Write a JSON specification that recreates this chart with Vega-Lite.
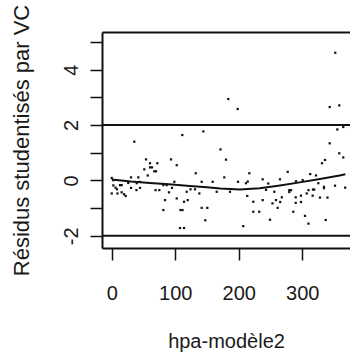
{
  "$schema": "https://vega.github.io/schema/vega-lite/v6.json",
  "autosize": {"type": "none"},
  "padding": {"left": 102, "top": 32, "right": 0, "bottom": 112},
  "width": 248,
  "height": 216,
  "background": "white",
  "config": {
    "view": {"stroke": null},
    "axis": {"grid": false, "labelFont": "Liberation Sans", "titleFont": "Liberation Sans", "labelColor": "#1a1a1a", "titleColor": "#1a1a1a", "titleFontWeight": "normal", "domainColor": "#111", "tickColor": "#111"}
  },
  "datasets": {
    "pts": [
      {"hpa": 0, "res": 0.09}, {"hpa": 2.5, "res": 0.01}, {"hpa": 2.5, "res": -0.18}, {"hpa": 6, "res": -0.26},
      {"hpa": 8.3, "res": -0.32}, {"hpa": 13, "res": -0.17}, {"hpa": 15.7, "res": -0.17}, {"hpa": 0, "res": -0.47},
      {"hpa": 9.1, "res": -0.47}, {"hpa": 15.7, "res": -0.43}, {"hpa": 19.4, "res": -0.5}, {"hpa": 22, "res": -0.56},
      {"hpa": 26, "res": -0.09}, {"hpa": 30.4, "res": 0.11}, {"hpa": 41.9, "res": 0.11}, {"hpa": 30.4, "res": -0.27},
      {"hpa": 39.4, "res": -0.1}, {"hpa": 43.8, "res": -0.05}, {"hpa": 44.6, "res": -0.27}, {"hpa": 39, "res": -0.35},
      {"hpa": 35.6, "res": 1.4}, {"hpa": 51.3, "res": 0.4}, {"hpa": 54, "res": 0.76}, {"hpa": 56.7, "res": 0.18},
      {"hpa": 60.3, "res": 0.62}, {"hpa": 60.3, "res": 0.47}, {"hpa": 63.5, "res": 0.47}, {"hpa": 67, "res": 0.33},
      {"hpa": 69.8, "res": 0.33}, {"hpa": 71.8, "res": 0.62}, {"hpa": 69, "res": -0.35}, {"hpa": 75, "res": -0.35},
      {"hpa": 81.3, "res": -0.17}, {"hpa": 86.6, "res": -0.17}, {"hpa": 84, "res": -0.71}, {"hpa": 81.3, "res": -1.07},
      {"hpa": 93.4, "res": 0.76}, {"hpa": 102.4, "res": 0.55}, {"hpa": 98.6, "res": -0.05}, {"hpa": 95, "res": -0.27},
      {"hpa": 90.2, "res": -0.43}, {"hpa": 102.4, "res": -0.65}, {"hpa": 108.3, "res": -1.07}, {"hpa": 111.5, "res": -1.07},
      {"hpa": 107.6, "res": -1.72}, {"hpa": 113.9, "res": -1.72}, {"hpa": 111.2, "res": 1.64}, {"hpa": 113.9, "res": -0.77},
      {"hpa": 119.7, "res": -0.71}, {"hpa": 118.1, "res": -0.41}, {"hpa": 124.1, "res": -0.32}, {"hpa": 131.2, "res": -0.32},
      {"hpa": 132.3, "res": 0.26}, {"hpa": 138, "res": -0.47}, {"hpa": 141.7, "res": -0.05}, {"hpa": 141.7, "res": -0.99},
      {"hpa": 150.6, "res": -0.99}, {"hpa": 147.4, "res": -1.44}, {"hpa": 144.3, "res": 1.77}, {"hpa": 159, "res": -0.05},
      {"hpa": 165.4, "res": -0.41}, {"hpa": 171.3, "res": 1.12}, {"hpa": 177.3, "res": 0.11}, {"hpa": 180, "res": 0.75},
      {"hpa": 183.6, "res": 2.94}, {"hpa": 198.4, "res": 2.58}, {"hpa": 186.3, "res": -0.41}, {"hpa": 198.9, "res": -0.05},
      {"hpa": 211.5, "res": -0.1}, {"hpa": 214.2, "res": -0.04}, {"hpa": 216.7, "res": 0.26}, {"hpa": 213.5, "res": -0.56},
      {"hpa": 207.2, "res": -1.65}, {"hpa": 223, "res": -0.77}, {"hpa": 223, "res": -1.13}, {"hpa": 232.3, "res": -1.13},
      {"hpa": 237.8, "res": 0.04}, {"hpa": 237.8, "res": -0.71}, {"hpa": 243, "res": -0.34}, {"hpa": 246.6, "res": -0.11},
      {"hpa": 249.3, "res": -1.42}, {"hpa": 253.2, "res": -0.83}, {"hpa": 256, "res": -0.41}, {"hpa": 258.7, "res": -0.71},
      {"hpa": 261.4, "res": -0.99}, {"hpa": 265.4, "res": -0.78}, {"hpa": 267.9, "res": -0.61}, {"hpa": 265, "res": 0.04},
      {"hpa": 277.2, "res": 0.31}, {"hpa": 279.7, "res": -0.35}, {"hpa": 282.4, "res": -0.35}, {"hpa": 279.7, "res": -0.42},
      {"hpa": 286, "res": -1.13}, {"hpa": 289.8, "res": -0.61}, {"hpa": 289.8, "res": -0.81}, {"hpa": 290.2, "res": -0.03},
      {"hpa": 298.1, "res": -0.55}, {"hpa": 298.1, "res": -0.78}, {"hpa": 300.8, "res": 0.01}, {"hpa": 304.4, "res": -1.28},
      {"hpa": 309.9, "res": -1.56}, {"hpa": 307.1, "res": -0.47}, {"hpa": 309.9, "res": -0.35}, {"hpa": 317, "res": -0.33},
      {"hpa": 319, "res": -0.33}, {"hpa": 316.5, "res": -0.55}, {"hpa": 312.6, "res": 0.23}, {"hpa": 321.7, "res": 0.18},
      {"hpa": 325.4, "res": -0.1}, {"hpa": 328, "res": -0.62}, {"hpa": 339.8, "res": -0.62}, {"hpa": 331.2, "res": 0.62},
      {"hpa": 335.9, "res": 0.74}, {"hpa": 334.3, "res": -0.23}, {"hpa": 334.3, "res": -0.28}, {"hpa": 337, "res": -1.43},
      {"hpa": 351.7, "res": -0.19}, {"hpa": 367.7, "res": -0.26}, {"hpa": 358.4, "res": 0.98}, {"hpa": 364.7, "res": 0.83},
      {"hpa": 343.3, "res": 1.34}, {"hpa": 343.3, "res": 2.65}, {"hpa": 358.4, "res": 2.71}, {"hpa": 355.3, "res": 1.84},
      {"hpa": 364.7, "res": 1.93}, {"hpa": 352.1, "res": 4.61}
    ],
    "smooth": [
      {"hpa": 0, "res": 0.03}, {"hpa": 30, "res": -0.04}, {"hpa": 60, "res": -0.09}, {"hpa": 90, "res": -0.14},
      {"hpa": 123, "res": -0.2}, {"hpa": 150, "res": -0.25}, {"hpa": 171, "res": -0.29}, {"hpa": 202, "res": -0.33},
      {"hpa": 233, "res": -0.28}, {"hpa": 265, "res": -0.18}, {"hpa": 296, "res": -0.07}, {"hpa": 328, "res": 0.05},
      {"hpa": 359, "res": 0.18}, {"hpa": 368, "res": 0.22}
    ],
    "refs": [{"res": -2}, {"res": 2}]
  },
  "resolve": {"axis": {"x": "independent"}},
  "encoding": {
    "y": {"field": "res", "type": "quantitative", "scale": {"domain": [-2.44, 5.36], "nice": false, "zero": false},
      "axis": {"values": [-2, -1, 0, 1, 2, 3, 4, 5], "labelExpr": "datum.value % 2 === 0 ? '' + datum.value : ''", "title": "Résidus studentisés par VC",
        "domainWidth": 2, "tickSize": 12, "tickWidth": 1.5, "labelFontSize": 20, "labelAngle": -90, "labelAlign": "center", "labelBaseline": "alphabetic", "labelPadding": 13,
        "titleFontSize": 22, "titleAngle": -90, "titleX": -73.5, "titleY": 108, "titleAlign": "center", "titleBaseline": "alphabetic"}}
  },
  "layer": [
    {
      "data": {"name": "refs"},
      "mark": {"type": "rule", "color": "#111", "strokeWidth": 2}
    },
    {
      "data": {"name": "pts"},
      "mark": {"type": "square", "size": 5, "color": "#111", "opacity": 1},
      "encoding": {
        "x": {"field": "hpa", "type": "quantitative", "scale": {"domain": [-15.3, 375.3], "nice": false, "zero": false},
          "axis": {"orient": "bottom", "values": [0, 100, 200, 300], "title": "hpa-modèle2", "domainWidth": 2, "tickSize": 12, "tickWidth": 1.5,
            "labelFontSize": 20, "labelBaseline": "alphabetic", "labelPadding": 39, "labelAlign": "center",
            "titleFontSize": 20, "titleX": 124, "titleY": 99, "titleAlign": "center", "titleBaseline": "alphabetic"}}
      }
    },
    {
      "data": {"name": "smooth"},
      "mark": {"type": "line", "color": "#111", "strokeWidth": 2},
      "encoding": {
        "x": {"field": "hpa", "type": "quantitative", "scale": {"domain": [-15.3, 375.3], "nice": false, "zero": false},
          "axis": {"orient": "top", "labels": false, "ticks": false, "title": null, "domainWidth": 2}}
      }
    }
  ]
}
